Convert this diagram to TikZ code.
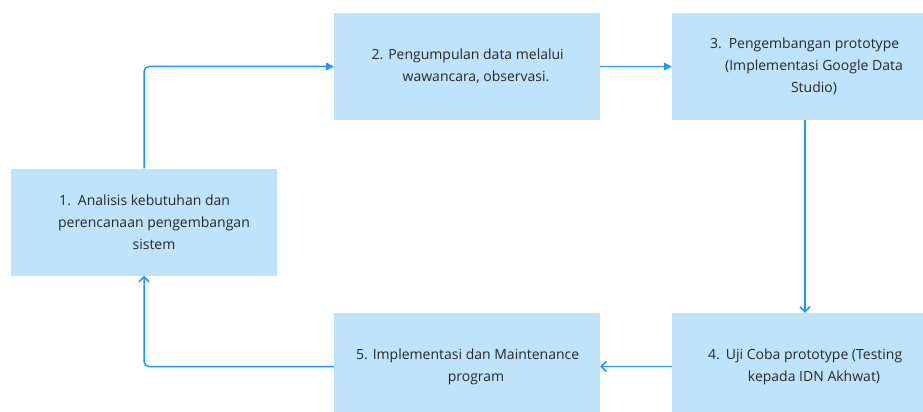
\documentclass[tikz,border=0pt]{standalone}
\usepackage{fontspec}
\setmainfont{Open Sans}
\usetikzlibrary{positioning,arrows.meta}
\definecolor{boxblue}{RGB}{190,227,251}
\definecolor{lineblue}{RGB}{30,152,255}
\definecolor{txtgray}{RGB}{40,40,40}

\begin{document}
\begin{tikzpicture}[x=1pt,y=-1pt,
		stepbox/.style={fill=boxblue,minimum width=266pt,minimum height=107pt,inner sep=0pt},
		steptext/.style={text=txtgray,font=\fontsize{14}{22}\selectfont,align=center,xshift=9pt},
		flow/.style={draw=lineblue,line width=1.5pt,rounded corners=5pt}]
		\useasboundingbox (0,0) rectangle (923,412);
		\clip (0,0) rectangle (923,412);
		\node[stepbox] (s1) at (144,222) {};
		\node[stepbox] (s2) at (467,66.5) {};
		\node[stepbox] (s3) at (805,66.5) {};
		\node[stepbox] (s4) at (805,366.5) {};
		\node[stepbox] (s5) at (467,366.5) {};
		\node[steptext,xshift=1pt] (t1) at (s1) {\llap{1.\hspace{7pt}}Analisis kebutuhan dan\\perencanaan pengembangan\\sistem};
		\node[steptext] (t2) at (s2) {\llap{2.\hspace{5pt}}Pengumpulan data melalui\\wawancara, observasi.};
		\node[steptext] (t3) at (s3) {\llap{3.\hspace{7pt}}Pengembangan prototype\\(Implementasi Google Data\\Studio)};
		\node[steptext] (t4) at (s4) {\llap{4.\hspace{6pt}}Uji Coba prototype (Testing\\kepada IDN Akhwat)};
		\node[steptext] (t5) at (s5) {\llap{5.\hspace{5pt}}Implementasi dan Maintenance\\program};
		\draw[flow,-{Triangle[length=8pt,width=8pt]}] (s1.north) |- (s2.west);
		\draw[flow,-{Triangle[length=8pt,width=8pt]}] (s2) -- (s3);
		\draw[flow,-{Straight Barb[length=5pt,width=10pt]}] (s3) -- (s4);
		\draw[flow,-{Straight Barb[length=5pt,width=10pt]}] (s4) -- (s5);
		\draw[flow,-{Straight Barb[length=5pt,width=10pt]}] (s5.west) -| (s1.south);
	\end{tikzpicture}
\end{document}
